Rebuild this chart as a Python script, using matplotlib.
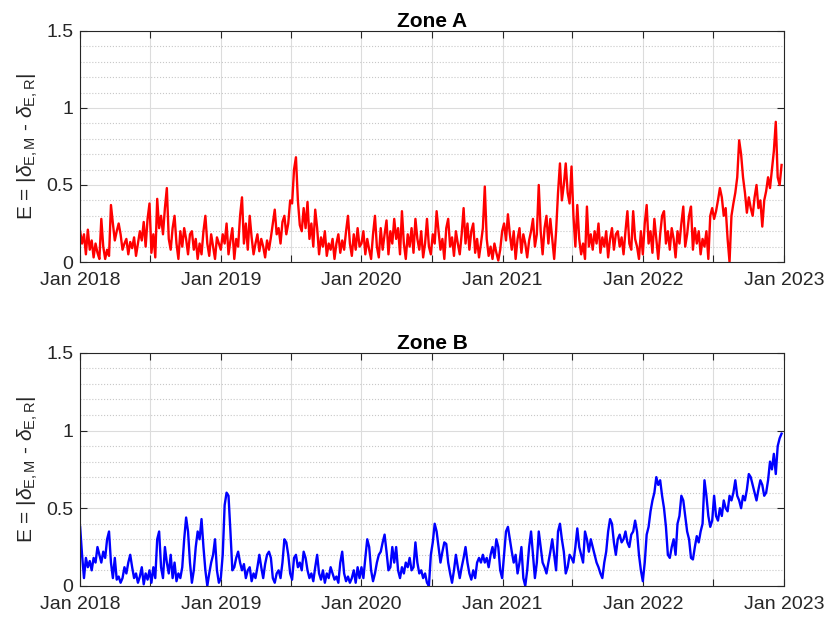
import numpy as np
import pandas as pd
import matplotlib
matplotlib.use('Agg')
import matplotlib.pyplot as plt
import matplotlib.dates as mdates
from matplotlib.ticker import MultipleLocator, FuncFormatter

plt.rcParams['font.family'] = ['Liberation Sans', 'DejaVu Sans']
plt.rcParams['mathtext.fontset'] = 'custom'
plt.rcParams['mathtext.rm'] = 'Liberation Sans'
plt.rcParams['mathtext.it'] = 'Liberation Sans:italic'

# values, one every 5 days, one list per year
zone_a_2018 = [0.20, 0.12, 0.18, 0.05, 0.21, 0.08, 0.14, 0.03, 0.12, 0.06, 0.02, 0.28, 0.10, 0.02, 0.08, 0.04,
               0.37, 0.25, 0.14, 0.20, 0.25, 0.18, 0.08, 0.12, 0.15, 0.05, 0.13, 0.09, 0.16, 0.04, 0.12, 0.20,
               0.14, 0.26, 0.10, 0.28, 0.38, 0.06, 0.18, 0.03, 0.41, 0.22, 0.30, 0.18, 0.35, 0.48, 0.15, 0.08,
               0.22, 0.30, 0.12, 0.02, 0.20, 0.10, 0.22, 0.15, 0.05, 0.18, 0.20, 0.08, 0.15, 0.02, 0.12, 0.05,
               0.20, 0.30, 0.12, 0.04, 0.18, 0.10, 0.02, 0.16, 0.12]
zone_a_2019 = [0.08, 0.18, 0.12, 0.25, 0.05, 0.14, 0.22, 0.02, 0.15, 0.10, 0.30, 0.42, 0.12, 0.25, 0.08, 0.30,
               0.16, 0.05, 0.12, 0.18, 0.07, 0.15, 0.10, 0.03, 0.14, 0.08, 0.16, 0.25, 0.34, 0.18, 0.22, 0.12,
               0.26, 0.30, 0.18, 0.25, 0.40, 0.38, 0.60, 0.68, 0.40, 0.24, 0.20, 0.35, 0.22, 0.39, 0.15, 0.25,
               0.10, 0.34, 0.22, 0.05, 0.16, 0.10, 0.20, 0.04, 0.12, 0.08, 0.15, 0.02, 0.12, 0.18, 0.06, 0.14,
               0.08, 0.20, 0.30, 0.12, 0.04, 0.18, 0.08, 0.22, 0.10]
zone_a_2020 = [0.12, 0.20, 0.05, 0.15, 0.08, 0.02, 0.18, 0.30, 0.10, 0.03, 0.22, 0.08, 0.18, 0.27, 0.05, 0.20,
               0.12, 0.28, 0.15, 0.22, 0.05, 0.33, 0.12, 0.02, 0.18, 0.10, 0.22, 0.06, 0.28, 0.15, 0.08, 0.20,
               0.03, 0.12, 0.28, 0.10, 0.05, 0.18, 0.12, 0.33, 0.20, 0.08, 0.15, 0.02, 0.22, 0.28, 0.10, 0.16,
               0.04, 0.20, 0.12, 0.05, 0.18, 0.35, 0.12, 0.25, 0.08, 0.20, 0.25, 0.06, 0.15, 0.03, 0.12, 0.22,
               0.49, 0.15, 0.04, 0.10, 0.02, 0.12, 0.06, 0.01, 0.08]
zone_a_2021 = [0.20, 0.25, 0.14, 0.31, 0.18, 0.08, 0.20, 0.02, 0.15, 0.22, 0.06, 0.18, 0.12, 0.03, 0.14, 0.20,
               0.28, 0.10, 0.18, 0.50, 0.20, 0.05, 0.22, 0.30, 0.12, 0.28, 0.15, 0.02, 0.20, 0.45, 0.64, 0.40,
               0.50, 0.64, 0.45, 0.38, 0.62, 0.30, 0.10, 0.37, 0.15, 0.05, 0.12, 0.02, 0.36, 0.10, 0.18, 0.08,
               0.20, 0.12, 0.25, 0.06, 0.16, 0.10, 0.20, 0.03, 0.15, 0.22, 0.08, 0.18, 0.20, 0.10, 0.16, 0.05,
               0.20, 0.33, 0.12, 0.08, 0.33, 0.15, 0.10, 0.02, 0.20]
zone_a_2022 = [0.05, 0.25, 0.37, 0.12, 0.20, 0.06, 0.28, 0.15, 0.02, 0.18, 0.30, 0.33, 0.12, 0.20, 0.08, 0.22,
               0.15, 0.03, 0.20, 0.12, 0.25, 0.36, 0.10, 0.18, 0.30, 0.36, 0.08, 0.22, 0.12, 0.20, 0.05, 0.15,
               0.10, 0.20, 0.02, 0.30, 0.35, 0.28, 0.33, 0.40, 0.48, 0.42, 0.30, 0.35, 0.15, 0.00, 0.30, 0.38,
               0.45, 0.55, 0.79, 0.70, 0.55, 0.45, 0.32, 0.42, 0.35, 0.30, 0.42, 0.50, 0.35, 0.40, 0.23, 0.40,
               0.46, 0.55, 0.48, 0.60, 0.72, 0.91, 0.55, 0.50, 0.63]

zone_b_2018 = [0.38, 0.20, 0.05, 0.18, 0.12, 0.16, 0.10, 0.18, 0.15, 0.25, 0.20, 0.15, 0.22, 0.18, 0.30, 0.35,
               0.15, 0.05, 0.18, 0.04, 0.06, 0.02, 0.05, 0.12, 0.08, 0.15, 0.20, 0.12, 0.05, 0.08, 0.02, 0.06,
               0.12, 0.01, 0.08, 0.04, 0.10, 0.02, 0.12, 0.05, 0.30, 0.35, 0.12, 0.05, 0.25, 0.15, 0.08, 0.20,
               0.05, 0.15, 0.03, 0.08, 0.05, 0.12, 0.30, 0.44, 0.35, 0.15, 0.02, 0.10, 0.25, 0.35, 0.30, 0.43,
               0.25, 0.10, 0.00, 0.08, 0.15, 0.20, 0.30, 0.10, 0.02]
zone_b_2019 = [0.05, 0.20, 0.52, 0.60, 0.58, 0.35, 0.10, 0.12, 0.18, 0.22, 0.15, 0.10, 0.14, 0.05, 0.10, 0.12,
               0.03, 0.08, 0.05, 0.12, 0.20, 0.12, 0.05, 0.14, 0.20, 0.22, 0.18, 0.05, 0.02, 0.08, 0.10, 0.05,
               0.15, 0.30, 0.28, 0.20, 0.08, 0.04, 0.18, 0.20, 0.12, 0.15, 0.10, 0.22, 0.18, 0.10, 0.05, 0.08,
               0.03, 0.12, 0.20, 0.08, 0.04, 0.10, 0.02, 0.08, 0.05, 0.12, 0.08, 0.04, 0.06, 0.02, 0.15, 0.22,
               0.08, 0.03, 0.06, 0.02, 0.05, 0.10, 0.02, 0.12, 0.05]
zone_b_2020 = [0.12, 0.05, 0.18, 0.30, 0.25, 0.10, 0.03, 0.08, 0.15, 0.20, 0.22, 0.28, 0.33, 0.22, 0.10, 0.12,
               0.25, 0.15, 0.25, 0.10, 0.05, 0.12, 0.08, 0.15, 0.12, 0.18, 0.10, 0.12, 0.28, 0.15, 0.08, 0.10,
               0.05, 0.08, 0.02, 0.00, 0.20, 0.28, 0.40, 0.35, 0.25, 0.15, 0.22, 0.28, 0.27, 0.15, 0.08, 0.02,
               0.10, 0.20, 0.12, 0.05, 0.12, 0.18, 0.25, 0.15, 0.08, 0.04, 0.10, 0.05, 0.15, 0.18, 0.15, 0.20,
               0.15, 0.18, 0.12, 0.20, 0.25, 0.18, 0.30, 0.25, 0.10]
zone_b_2021 = [0.05, 0.20, 0.35, 0.38, 0.30, 0.22, 0.15, 0.20, 0.08, 0.15, 0.25, 0.05, 0.00, 0.10, 0.25, 0.35,
               0.20, 0.05, 0.15, 0.35, 0.25, 0.15, 0.12, 0.08, 0.15, 0.22, 0.30, 0.20, 0.10, 0.35, 0.40, 0.30,
               0.22, 0.08, 0.12, 0.20, 0.18, 0.15, 0.25, 0.37, 0.25, 0.20, 0.15, 0.35, 0.30, 0.22, 0.30, 0.25,
               0.20, 0.15, 0.12, 0.08, 0.05, 0.15, 0.22, 0.35, 0.43, 0.40, 0.28, 0.20, 0.30, 0.33, 0.28, 0.30,
               0.35, 0.28, 0.25, 0.33, 0.35, 0.42, 0.35, 0.20, 0.10]
zone_b_2022 = [0.03, 0.15, 0.33, 0.38, 0.48, 0.55, 0.60, 0.70, 0.65, 0.68, 0.58, 0.50, 0.38, 0.20, 0.18, 0.25,
               0.30, 0.20, 0.40, 0.45, 0.58, 0.55, 0.45, 0.35, 0.30, 0.18, 0.17, 0.25, 0.32, 0.28, 0.35, 0.40,
               0.68, 0.58, 0.45, 0.38, 0.42, 0.58, 0.45, 0.42, 0.50, 0.45, 0.55, 0.50, 0.48, 0.58, 0.55, 0.60,
               0.68, 0.58, 0.55, 0.50, 0.58, 0.55, 0.62, 0.72, 0.70, 0.65, 0.60, 0.55, 0.62, 0.68, 0.65, 0.58,
               0.60, 0.68, 0.80, 0.75, 0.85, 0.72, 0.90, 0.95, 0.98]

zone_a = np.array(zone_a_2018 + zone_a_2019 + zone_a_2020 + zone_a_2021 + zone_a_2022)
zone_b = np.array(zone_b_2018 + zone_b_2019 + zone_b_2020 + zone_b_2021 + zone_b_2022)
dates = pd.date_range('2018-01-01', periods=len(zone_a), freq='5D')

titles = ['Zone A', 'Zone B']
colors = ['#ff0000', '#0000ff']
ylabel = r'E = |$\mathit{δ}_{\mathrm{E,M}}$ - $\mathit{δ}_{\mathrm{E,R}}$|'

fig = plt.figure(figsize=(8.26, 6.18), dpi=100)
ax1 = fig.add_axes([0.097, 0.576, 0.852, 0.374])
ax2 = fig.add_axes([0.097, 0.052, 0.852, 0.377])

axc = '#262626'
for ax, series, title, col in zip([ax1, ax2], [zone_a, zone_b], titles, colors):
    ax.plot(dates, series, color=col, lw=1.7)
    ax.set_xlim(pd.Timestamp('2018-01-01'), pd.Timestamp('2023-01-01'))
    ax.set_ylim(0, 1.5)
    ax.set_title(title, fontsize=15, fontweight='bold', pad=3)
    ax.set_ylabel(ylabel, fontsize=15, color=axc, labelpad=4)

    ax.xaxis.set_major_locator(mdates.MonthLocator(bymonth=[1, 7]))
    ax.xaxis.set_major_formatter(FuncFormatter(
        lambda v, p: mdates.num2date(v).strftime('Jan %Y') if mdates.num2date(v).month == 1 else ''))
    ax.yaxis.set_major_locator(MultipleLocator(0.5))
    ax.yaxis.set_minor_locator(MultipleLocator(0.1))
    ax.yaxis.set_major_formatter(FuncFormatter(lambda v, p: '%g' % v))

    ax.grid(which='major', color='#dcdcdc', lw=0.8, ls='-')
    ax.grid(which='minor', axis='y', color='#c8c8c8', lw=0.8, ls=':')
    ax.set_axisbelow(True)
    ax.tick_params(which='major', direction='in', top=True, right=True, length=5,
                   labelsize=14, colors=axc)
    ax.tick_params(axis='x', pad=7)
    ax.tick_params(axis='y', pad=5)
    ax.tick_params(which='minor', length=0)
    for s in ax.spines.values():
        s.set_color(axc)
        s.set_linewidth(0.8)

fig.savefig('out.png', dpi=100)
